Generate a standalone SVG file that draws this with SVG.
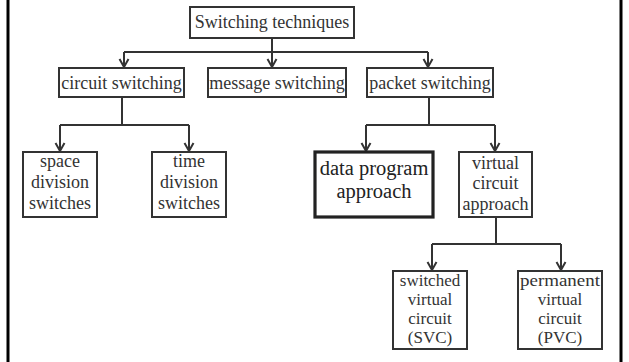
<svg xmlns="http://www.w3.org/2000/svg" width="629" height="362" viewBox="0 0 629 362">
<defs>
<style>
.box{fill:#fff;stroke:#333;stroke-width:2}
.bold{stroke-width:3.2;stroke:#222}
.t{font-family:"Liberation Serif","Times New Roman",serif;font-size:18px;fill:#333;text-anchor:middle}
.big{font-size:20.5px;fill:#222}
.sm{font-size:17px}
.c{fill:none;stroke:#333;stroke-width:2}
</style>
</defs>
<rect width="629" height="362" fill="#fff"/>
<line x1="8" y1="0" x2="8" y2="362" stroke="#000" stroke-width="3"/>
<line x1="621" y1="0" x2="621" y2="362" stroke="#000" stroke-width="3"/>
<g id="connectors">
<path class="c" d="M272,38 V52 M124,52 H428"/>
<path class="c" d="M124,52 V67"/>
<path class="c" d="M272,52 V67"/>
<path class="c" d="M428,52 V67"/>
<path class="c" d="M122,97 V125 M60,125 H189"/>
<path class="c" d="M60,125 V151"/>
<path class="c" d="M189,125 V151"/>
<path class="c" d="M429,97 V125 M366,125 H495"/>
<path class="c" d="M366,125 V151"/>
<path class="c" d="M495,125 V151"/>
<path class="c" d="M496,217 V244 M432,244 H561"/>
<path class="c" d="M432,244 V270"/>
<path class="c" d="M561,244 V270"/>
<path class="c" d="M119.5,59 L124,67 L128.5,59 M267.5,59 L272,67 L276.5,59 M423.5,59 L428,67 L432.5,59"/>
<path class="c" d="M55.5,143 L60,151 L64.5,143 M184.5,143 L189,151 L193.5,143 M361.5,143 L366,151 L370.5,143 M490.5,143 L495,151 L499.5,143"/>
<path class="c" d="M427.5,262 L432,270 L436.5,262 M556.5,262 L561,270 L565.5,262"/>
</g>
<g id="n-root"><rect class="box" x="190" y="7" width="164" height="31"/><text class="t" x="272" y="28">Switching techniques</text></g>
<g id="n-circuit"><rect class="box" x="59" y="68" width="125" height="29"/><text class="t" x="121.5" y="89">circuit switching</text></g>
<g id="n-message"><rect class="box" x="208" y="68" width="138" height="29"/><text class="t" x="277" y="89">message switching</text></g>
<g id="n-packet"><rect class="box" x="367" y="68" width="126" height="29"/><text class="t" x="430" y="89">packet switching</text></g>
<g id="n-space"><rect class="box" x="23" y="152" width="74" height="65"/><text class="t" x="60" y="167">space</text><text class="t" x="60" y="188">division</text><text class="t" x="60" y="209">switches</text></g>
<g id="n-time"><rect class="box" x="152" y="152" width="74" height="65"/><text class="t" x="189" y="167">time</text><text class="t" x="189" y="188">division</text><text class="t" x="189" y="209">switches</text></g>
<g id="n-data"><rect class="box bold" x="315" y="152" width="118" height="65"/><text class="t big" x="374" y="175">data program</text><text class="t big" x="374" y="198">approach</text></g>
<g id="n-virtual"><rect class="box" x="459" y="152" width="73" height="65"/><text class="t" x="495.5" y="169">virtual</text><text class="t" x="495.5" y="189">circuit</text><text class="t" x="495.5" y="210">approach</text></g>
<g id="n-svc"><rect class="box" x="393" y="271" width="74" height="78"/><text class="t sm" x="430" y="286">switched</text><text class="t sm" x="430" y="305">virtual</text><text class="t sm" x="430" y="324">circuit</text><text class="t sm" x="430" y="343">(SVC)</text></g>
<g id="n-pvc"><rect class="box" x="518" y="271" width="84" height="78"/><text class="t sm" x="560" y="286" textLength="80" lengthAdjust="spacingAndGlyphs">permanent</text><text class="t sm" x="560" y="305">virtual</text><text class="t sm" x="560" y="324">circuit</text><text class="t sm" x="560" y="343">(PVC)</text></g>
</svg>
